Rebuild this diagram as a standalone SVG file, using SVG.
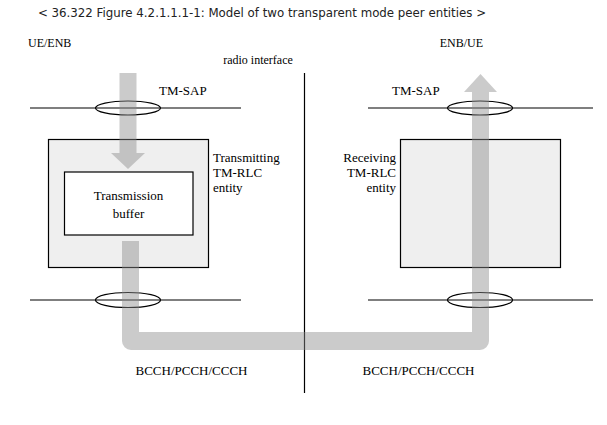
<svg xmlns="http://www.w3.org/2000/svg" width="607" height="425" viewBox="0 0 607 425">
<style>
.t{font-family:"Liberation Serif","Times New Roman",serif;font-size:13px;fill:#000}
.s{font-size:12px}
.ln{stroke:#000;stroke-width:1.2;fill:none}
.box{fill:#efefef;stroke:#000;stroke-width:1.2}
.flow{fill:#8c8c8c;fill-opacity:0.45}
</style>
<rect width="607" height="425" fill="#fff"/>
<text x="262" y="17" text-anchor="middle" style="font-family:'DejaVu Sans',Verdana,sans-serif;font-size:11.8px;fill:#222">&lt; 36.322 Figure 4.2.1.1.1-1: Model of two transparent mode peer entities &gt;</text>
<text class="t s" x="28" y="47">UE/ENB</text>
<text class="t s" x="483" y="47" text-anchor="end">ENB/UE</text>
<text class="t s" x="258" y="64" text-anchor="middle">radio interface</text>
<g id="interface">
<line class="ln" x1="304.5" y1="73" x2="304.5" y2="393"/>
</g>
<g id="sap-lines">
<line class="ln" x1="30" y1="108" x2="241" y2="108"/>
<line class="ln" x1="368" y1="108" x2="593" y2="108"/>
<line class="ln" x1="30" y1="300" x2="241" y2="300"/>
<line class="ln" x1="368" y1="300" x2="593" y2="300"/>
<ellipse class="ln" cx="128" cy="108" rx="32.5" ry="7" fill="#fff"/>
<ellipse class="ln" cx="480" cy="108" rx="32.5" ry="7" fill="#fff"/>
<ellipse class="ln" cx="128" cy="300" rx="32.5" ry="7.5" fill="#fff"/>
<ellipse class="ln" cx="480" cy="300" rx="32.5" ry="7.5" fill="#fff"/>
<text class="t" x="159" y="95">TM-SAP</text>
<text class="t" x="392" y="95">TM-SAP</text>
</g>
<g id="tx-entity">
<rect class="box" x="48.5" y="139.5" width="160" height="128"/>
<text class="t" x="213" y="162">Transmitting</text>
<text class="t" x="213" y="177">TM-RLC</text>
<text class="t" x="213" y="192">entity</text>
</g>
<g id="tx-buffer">
<rect x="64.5" y="172" width="128.5" height="63" fill="#fff" stroke="#000" stroke-width="1.2"/>
<text class="t" x="128.5" y="200" text-anchor="middle">Transmission</text>
<text class="t" x="128.5" y="218" text-anchor="middle">buffer</text>
</g>
<g id="rx-entity">
<rect class="box" x="400.5" y="139.5" width="160" height="128"/>
<text class="t" x="396" y="162" text-anchor="end">Receiving</text>
<text class="t" x="396" y="177" text-anchor="end">TM-RLC</text>
<text class="t" x="396" y="192" text-anchor="end">entity</text>
</g>
<g id="connectors">
<path class="flow" d="M119.5,73 H136.5 V153 H145 L128,169 L111,153 H119.5 Z"/>
<path class="flow" d="M122,241 H139 V332 H472 V92 H464 L480.5,74 L497,92 H489 V341 A9 9 0 0 1 480,350 H131 A9 9 0 0 1 122,341 Z"/>
</g>
<text class="t" x="191.5" y="375" text-anchor="middle">BCCH/PCCH/CCCH</text>
<text class="t" x="418.5" y="375" text-anchor="middle">BCCH/PCCH/CCCH</text>
</svg>
